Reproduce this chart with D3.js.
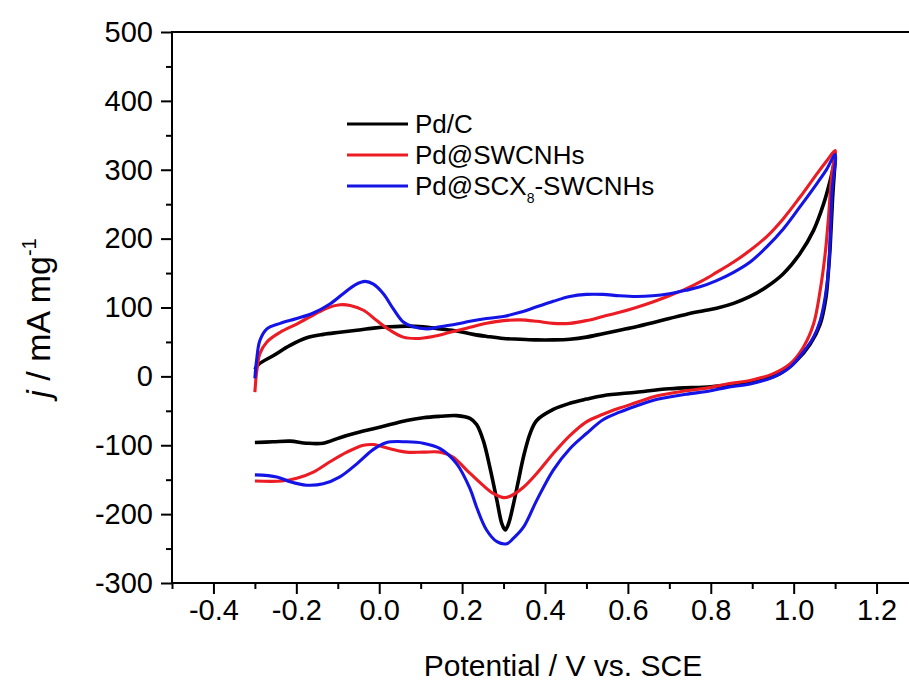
<!DOCTYPE html>
<html>
<head>
<meta charset="utf-8">
<script src="https://cdn.jsdelivr.net/npm/d3@7"></script>
<style>
  body { margin: 0; background: #fff; }
  text { font-family: "Liberation Sans", Arial, sans-serif; fill: #000; }
</style>
</head>
<body>
<div id="chart"></div>
<script>
// CV scans, [potential V, current mA/mg], in scan order (anodic then cathodic)
const pdC = [
  [-0.30, 10], [-0.29, 18], [-0.256, 30], [-0.215, 45], [-0.175, 56], [-0.135, 61], [-0.095, 64],
  [-0.054, 67], [-0.014, 70], [0.026, 72], [0.066, 73], [0.106, 72], [0.147, 69], [0.187, 66],
  [0.227, 61], [0.26, 58], [0.30, 55], [0.34, 54], [0.38, 53], [0.42, 53], [0.46, 54], [0.50, 57],
  [0.54, 62], [0.58, 67], [0.62, 72], [0.66, 78], [0.70, 84], [0.74, 90], [0.78, 95], [0.814, 99],
  [0.855, 106], [0.895, 116], [0.935, 130], [0.975, 149], [1.015, 178], [1.048, 212], [1.072, 250],
  [1.088, 284], [1.096, 305], [1.10, 318],
  [1.094, 260], [1.088, 188], [1.084, 154], [1.078, 115], [1.064, 76], [1.04, 47], [1.007, 23],
  [0.967, 4], [0.919, -6], [0.855, -12], [0.80, -15], [0.70, -18], [0.62, -23], [0.54, -28],
  [0.50, -33], [0.46, -39], [0.42, -48], [0.38, -64], [0.364, -83], [0.348, -117], [0.336, -151],
  [0.324, -185], [0.312, -214], [0.304, -223], [0.296, -214], [0.284, -180], [0.267, -132],
  [0.251, -93], [0.235, -70], [0.219, -61], [0.187, -57], [0.147, -58], [0.106, -60], [0.066, -64],
  [0.026, -70], [-0.014, -76], [-0.054, -82], [-0.095, -89], [-0.135, -97], [-0.175, -97],
  [-0.215, -94], [-0.256, -95], [-0.30, -96]
];

const pdSWCNHs = [
  [-0.30, -23], [-0.297, 0], [-0.294, 14], [-0.288, 33], [-0.271, 50], [-0.239, 64], [-0.199, 76],
  [-0.159, 89], [-0.127, 99], [-0.095, 104], [-0.07, 103], [-0.038, 96], [-0.006, 81], [0.026, 67],
  [0.058, 57], [0.09, 55], [0.13, 58], [0.171, 64], [0.211, 70], [0.259, 77], [0.30, 81], [0.34, 82],
  [0.38, 80], [0.42, 77], [0.46, 77], [0.50, 81], [0.54, 87], [0.58, 93], [0.62, 100], [0.66, 108],
  [0.70, 117], [0.74, 127], [0.78, 139], [0.814, 151], [0.855, 166], [0.895, 183], [0.935, 203],
  [0.975, 229], [1.015, 260], [1.056, 294], [1.08, 313], [1.10, 328],
  [1.092, 294], [1.084, 231], [1.076, 178], [1.064, 125], [1.048, 76], [1.023, 42], [0.991, 18],
  [0.951, 4], [0.895, -6], [0.839, -11], [0.80, -16], [0.74, -21], [0.70, -25], [0.66, -30],
  [0.62, -38], [0.58, -46], [0.54, -55], [0.50, -66], [0.46, -86], [0.42, -112], [0.38, -141],
  [0.348, -161], [0.316, -174], [0.30, -176], [0.275, -170], [0.25, -158], [0.211, -136],
  [0.178, -117], [0.147, -110], [0.106, -110], [0.066, -110], [0.026, -105], [-0.014, -99],
  [-0.038, -100], [-0.078, -110], [-0.119, -124], [-0.159, -139], [-0.199, -148], [-0.235, -152],
  [-0.30, -152]
];

const pdSCX8 = [
  [-0.30, -3], [-0.296, 23], [-0.288, 52], [-0.271, 69], [-0.239, 77], [-0.199, 84], [-0.159, 92],
  [-0.119, 105], [-0.087, 120], [-0.058, 133], [-0.034, 138], [-0.014, 134], [0.01, 120], [0.034, 98],
  [0.058, 79], [0.082, 72], [0.115, 69], [0.147, 72], [0.187, 76], [0.219, 80], [0.259, 84], [0.30, 87],
  [0.34, 93], [0.38, 101], [0.42, 109], [0.46, 116], [0.50, 119], [0.54, 119], [0.58, 117], [0.62, 116],
  [0.66, 117], [0.70, 120], [0.74, 125], [0.774, 130], [0.814, 139], [0.855, 151], [0.895, 166],
  [0.935, 188], [0.975, 214], [1.015, 246], [1.056, 280], [1.08, 301], [1.10, 322],
  [1.093, 270], [1.089, 212], [1.084, 154], [1.076, 115], [1.064, 81], [1.048, 57], [1.023, 35],
  [0.991, 13], [0.951, -1], [0.895, -11], [0.839, -16], [0.80, -21], [0.74, -26], [0.70, -30],
  [0.66, -35], [0.62, -43], [0.58, -52], [0.54, -63], [0.50, -83], [0.46, -105], [0.42, -136],
  [0.38, -180], [0.348, -219], [0.324, -235], [0.308, -243], [0.284, -240], [0.259, -223],
  [0.235, -190], [0.219, -163], [0.187, -127], [0.147, -105], [0.106, -97], [0.066, -95],
  [0.018, -96], [-0.014, -106], [-0.054, -127], [-0.095, -146], [-0.135, -156], [-0.175, -158],
  [-0.215, -153], [-0.247, -146], [-0.30, -143]
];

const xMajor = [-0.4, -0.2, 0.0, 0.2, 0.4, 0.6, 0.8, 1.0, 1.2];
const xMinor = [-0.5, -0.3, -0.1, 0.1, 0.3, 0.5, 0.7, 0.9, 1.1];
const yMajor = [-300, -200, -100, 0, 100, 200, 300, 400, 500];
const yMinor = [-250, -150, -50, 50, 150, 250, 350, 450];

const series = [
  { name: "Pd/C", values: pdC, color: "#000000", width: 3.6 },
  { name: "Pd@SWCNHs", values: pdSWCNHs, color: "#ec1c24", width: 3.1 },
  { name: "Pd@SCX8-SWCNHs", values: pdSCX8, color: "#1414e6", width: 3.1 }
];

const W = 909, H = 686;
const plotL = 172, plotT = 32, plotB = 583, plotR = 918;

const svg = d3.select("#chart").append("svg")
  .attr("width", W)
  .attr("height", H);

const x = d3.scaleLinear().domain([-0.5, 1.3]).range([plotL, plotR]);
const y = d3.scaleLinear().domain([-300, 500]).range([plotB, plotT]);

// frame
svg.append("rect")
  .attr("x", plotL).attr("y", plotT)
  .attr("width", plotR - plotL).attr("height", plotB - plotT)
  .attr("fill", "none").attr("stroke", "#000").attr("stroke-width", 2);

// x axis
const xAxis = svg.append("g").attr("transform", `translate(0,${plotB})`);
xAxis.call(d3.axisBottom(x).tickValues(xMajor).tickSize(11).tickSizeOuter(0)
  .tickPadding(5).tickFormat(d => d.toFixed(1)));
xAxis.append("g").call(d3.axisBottom(x).tickValues(xMinor).tickSize(6).tickSizeOuter(0).tickFormat(""));
xAxis.selectAll(".domain").remove();
xAxis.selectAll("line").attr("stroke-width", 2);
xAxis.selectAll("text").style("font-size", "29px").attr("font-family", null);

// y axis
const yAxis = svg.append("g").attr("transform", `translate(${plotL},0)`);
yAxis.call(d3.axisLeft(y).tickValues(yMajor).tickSize(11).tickSizeOuter(0)
  .tickPadding(8).tickFormat(d => String(d)));
yAxis.append("g").call(d3.axisLeft(y).tickValues(yMinor).tickSize(6).tickSizeOuter(0).tickFormat(""));
yAxis.selectAll(".domain").remove();
yAxis.selectAll("line").attr("stroke-width", 2);
yAxis.selectAll("text").style("font-size", "29px").attr("font-family", null);

// curves
const line = d3.line()
  .x(d => x(d[0]))
  .y(d => y(d[1]))
  .curve(d3.curveCatmullRom.alpha(0.5));

svg.append("g").selectAll("path")
  .data(series)
  .join("path")
  .attr("d", d => line(d.values))
  .attr("fill", "none")
  .attr("stroke", d => d.color)
  .attr("stroke-width", d => d.width)
  .attr("stroke-linejoin", "round");

// legend
const legend = svg.append("g");
const rows = legend.selectAll("g")
  .data(series)
  .join("g")
  .attr("transform", (d, i) => `translate(347,${124 + i * 31})`);
rows.append("line")
  .attr("x1", 0).attr("x2", 61)
  .attr("stroke", d => d.color).attr("stroke-width", 3);
const labels = rows.append("text")
  .attr("x", 68).attr("dy", "0.35em")
  .style("font-size", "26px");
labels.filter((d, i) => i < 2).text(d => d.name);
const scx = labels.filter((d, i) => i === 2);
scx.append("tspan").text("Pd@SCX");
scx.append("tspan").text("8").style("font-size", "14px").attr("dy", 8);
scx.append("tspan").text("-SWCNHs").attr("dy", -8);

// axis titles
svg.append("text")
  .attr("x", 563).attr("y", 676)
  .attr("text-anchor", "middle")
  .style("font-size", "30px")
  .text("Potential / V vs. SCE");

const yt = svg.append("text")
  .attr("transform", "translate(50,318) rotate(-90)")
  .attr("text-anchor", "middle")
  .style("font-size", "34px");
yt.append("tspan").text("j").style("font-style", "italic");
yt.append("tspan").text(" / mA mg");
yt.append("tspan").text("-1").style("font-size", "20px").attr("dy", -14);
</script>
</body>
</html>
